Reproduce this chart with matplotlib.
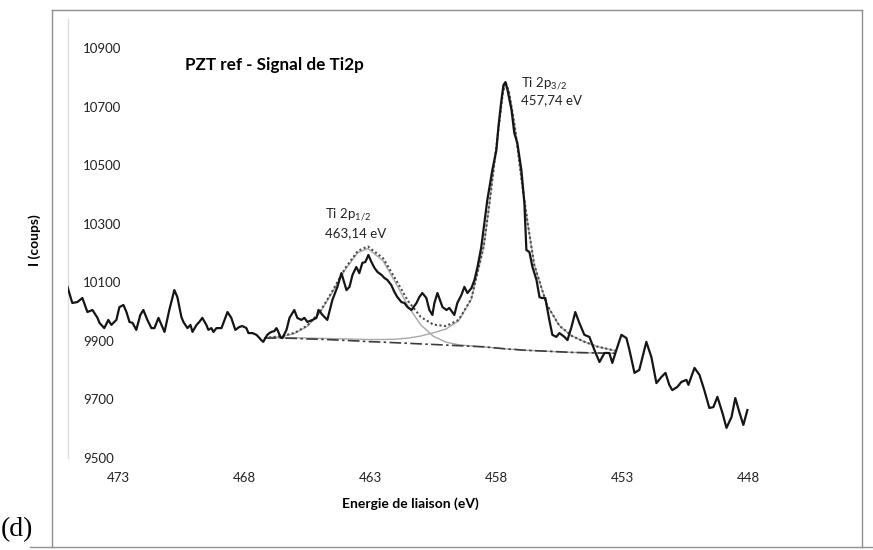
import matplotlib
matplotlib.use("Agg")
import matplotlib.pyplot as plt
from matplotlib.lines import Line2D

plt.rcParams["font.family"] = ["Lato", "DejaVu Sans"]
plt.rcParams["mathtext.fontset"] = "custom"
plt.rcParams["mathtext.rm"] = "Lato"
plt.rcParams["mathtext.it"] = "Lato:italic"

# measured Ti2p spectrum (binding energy in eV, counts)
energy = [
    475.02, 474.83, 474.63, 474.43, 474.23, 474.03, 473.83, 473.75, 473.56, 473.40,
    473.28, 473.08, 472.96, 472.80, 472.68, 472.56, 472.44, 472.29, 472.13, 472.01,
    471.85, 471.69, 471.57, 471.41, 471.29, 471.17, 470.98, 470.78, 470.66, 470.50,
    470.42, 470.26, 470.14, 470.06, 469.90, 469.79, 469.67, 469.51, 469.43, 469.31,
    469.23, 469.11, 468.91, 468.67, 468.52, 468.36, 468.20, 468.08, 467.92, 467.84,
    467.68, 467.52, 467.40, 467.33, 467.25, 467.17, 467.09, 467.01, 466.93, 466.81,
    466.73, 466.69, 466.57, 466.49, 466.33, 466.21, 466.02, 465.90, 465.74, 465.62,
    465.50, 465.30, 465.14, 465.06, 464.90, 464.71, 464.51, 464.31, 464.15, 463.95,
    463.83, 463.71, 463.56, 463.44, 463.32, 463.20, 463.08, 462.96, 462.84, 462.72,
    462.56, 462.44, 462.33, 462.17, 462.05, 461.93, 461.77, 461.65, 461.53, 461.37,
    461.17, 461.06, 460.94, 460.78, 460.66, 460.54, 460.46, 460.34, 460.14, 459.98,
    459.87, 459.67, 459.55, 459.39, 459.27, 459.15, 458.99, 458.87, 458.75, 458.60,
    458.48, 458.36, 458.16, 458.00, 457.92, 457.80, 457.72, 457.64, 457.56, 457.40,
    457.29, 457.17, 457.01, 456.89, 456.81, 456.69, 456.57, 456.41, 456.29, 456.21,
    456.06, 455.90, 455.78, 455.62, 455.50, 455.30, 455.18, 455.02, 454.87, 454.71,
    454.51, 454.31, 454.11, 453.91, 453.71, 453.52, 453.40, 453.24, 453.04, 452.84,
    452.72, 452.52, 452.33, 452.05, 451.85, 451.65, 451.45, 451.29, 451.14, 451.02,
    450.82, 450.66, 450.46, 450.38, 450.14, 449.94, 449.75, 449.55, 449.39, 449.23,
    449.03, 448.87, 448.67, 448.52, 448.36, 448.20, 448.04,
]
counts = [
    10085, 10030, 10033, 10047, 9999, 10006, 9979, 9962, 9944, 9972,
    9955, 9972, 10016, 10023, 9999, 9965, 9962, 9938, 9989, 10006,
    9972, 9944, 9944, 9979, 9955, 9931, 10006, 10074, 10050, 9982,
    9965, 9944, 9955, 9931, 9955, 9965, 9979, 9955, 9938, 9944,
    9931, 9944, 9944, 9999, 9979, 9938, 9948, 9951, 9944, 9927,
    9927, 9921, 9910, 9903, 9897, 9910, 9921, 9927, 9931, 9934,
    9944, 9938, 9914, 9910, 9938, 9979, 10006, 9979, 9972, 9979,
    9965, 9972, 9979, 10006, 9989, 9972, 10040, 10085, 10132, 10074,
    10085, 10126, 10153, 10132, 10167, 10170, 10194, 10170, 10150, 10136,
    10126, 10115, 10109, 10091, 10068, 10050, 10033, 10030, 10016, 10006,
    10030, 10050, 10064, 10047, 10006, 9989, 10030, 10064, 10016, 10006,
    10013, 9989, 10030, 10057, 10085, 10064, 10081, 10109, 10153, 10221,
    10303, 10382, 10485, 10553, 10632, 10724, 10775, 10785, 10758, 10690,
    10611, 10577, 10485, 10372, 10211, 10204, 10153, 10109, 10050, 10047,
    10047, 9972, 9921, 9914, 9927, 9914, 9903, 9948, 9999, 9962,
    9921, 9914, 9869, 9828, 9859, 9859, 9825, 9869, 9921, 9910,
    9869, 9791, 9801, 9897, 9845, 9756, 9777, 9791, 9750, 9732,
    9743, 9760, 9767, 9750, 9808, 9784, 9732, 9671, 9674, 9709,
    9654, 9603, 9640, 9705, 9657, 9613, 9664,
]

# decomposition: background, the two Ti 2p components and the envelope
fit_energy = [
    467.2, 466.5, 466.0, 465.5, 465.0, 464.5, 464.0, 463.5, 463.1, 462.5,
    462.0, 461.5, 461.0, 460.5, 460.0, 459.5, 459.0, 458.5, 458.25, 458.0,
    457.75, 457.64, 457.5, 457.25, 457.0, 456.75, 456.5, 456.0, 455.5, 455.0,
    454.5, 454.0, 453.3,
]
background = [
    9910, 9910, 9909, 9907, 9906, 9904, 9902, 9900, 9898, 9896,
    9894, 9892, 9890, 9888, 9886, 9884, 9882, 9880, 9878, 9876,
    9874, 9873, 9872, 9871, 9869, 9868, 9867, 9865, 9863, 9861,
    9860, 9859, 9858,
]
peak_2p12 = [
    9911, 9915, 9926, 9950, 9997, 10068, 10144, 10202, 10216, 10174,
    10099, 10018, 9955, 9916, 9896, 9887, 9883, 9880, 9878, 9876,
    9874, 9873, 9872, 9871, 9869, 9868, 9867, 9865, 9863, 9861,
    9860, 9859, 9858,
]
peak_2p32 = [
    9910, 9911, 9911, 9910, 9909, 9908, 9907, 9906, 9905, 9905,
    9906, 9910, 9917, 9928, 9941, 9969, 10042, 10224, 10387, 10566,
    10744, 10785, 10752, 10622, 10449, 10298, 10161, 10024, 9952, 9917,
    9897, 9881, 9867,
]
envelope = [
    9910, 9917, 9928, 9953, 10000, 10072, 10149, 10208, 10223, 10183,
    10111, 10036, 9982, 9956, 9951, 9972, 10043, 10224, 10387, 10566,
    10744, 10785, 10752, 10622, 10449, 10298, 10161, 10024, 9952, 9917,
    9897, 9881, 9867,
]

x_ticks = [473, 468, 463, 458, 453, 448]
y_ticks = [9500, 9700, 9900, 10100, 10300, 10500, 10700, 10900]

W, H = 873, 550
fig = plt.figure(figsize=(W / 100, H / 100), dpi=100)
ax = fig.add_axes([68 / W, 1 - 458 / H, 756 / W, 438.8 / H])

ax.plot(fit_energy, peak_2p12, color="#a8a8a8", lw=1.0, zorder=2)
ax.plot(fit_energy, peak_2p32, color="#a8a8a8", lw=1.0, zorder=2)
ax.plot(fit_energy, background, color="#3c3c3c", lw=1.2,
        linestyle=(0, (7, 2, 1.5, 2)), zorder=3)
ax.plot(fit_energy, envelope, color="#4a4a4a", lw=1.5,
        linestyle=(0, (1, 1.2)), zorder=3)
ax.plot(energy, counts, color="#151515", lw=1.6, zorder=4)

ax.set_xlim(475, 445)
ax.set_ylim(9500, 11000)
ax.set_xticks(x_ticks)
ax.set_yticks(y_ticks)
ax.set_xticklabels([str(v) for v in x_ticks])
ax.set_yticklabels([str(v) for v in y_ticks])
ax.tick_params(axis="x", length=0, pad=10, labelsize=9.5, colors="#222222")
ax.tick_params(axis="y", length=0, pad=-10.8, labelsize=9.5, colors="#222222")
for lab in ax.get_yticklabels():
    lab.set_horizontalalignment("left")

for side in ("top", "right", "bottom"):
    ax.spines[side].set_visible(False)
ax.spines["left"].set_color("#dddddd")
ax.spines["left"].set_linewidth(1.0)

ax.set_xlabel("Energie de liaison (eV)", fontsize=10, fontweight="bold",
              labelpad=4)
ax.xaxis.set_label_coords((410 - 68) / 756, -(497 - 458) / 438.8)
fig.text(35 / W, 1 - 240 / H, "I (coups)", rotation=90, fontsize=10,
         fontweight="bold", ha="center", va="center")

fig.text(185 / W, 1 - 65 / H, "PZT ref - Signal de Ti2p", fontsize=12.3,
         fontweight="bold", ha="left", va="center")

ax.text(464.79, 10331, r"Ti 2p$_{1/2}$", fontsize=9.5, ha="left",
        va="center", color="#222222")
ax.text(464.79, 10269, "463,14 eV", fontsize=9.5, ha="left", va="center",
        color="#222222")
ax.text(457.01, 10779, r"Ti 2p$_{3/2}$", fontsize=9.5, ha="left",
        va="center", color="#222222")
ax.text(457.01, 10724, "457,74 eV", fontsize=9.5, ha="left", va="center",
        color="#222222")

# panel frame and tag
frame = dict(color="#8f8f8f", lw=1.0, transform=fig.transFigure)
fig.add_artist(Line2D([52 / W, 52 / W], [1 - 10 / H, 1 - 547 / H], **frame))
fig.add_artist(Line2D([52 / W, 862 / W], [1 - 10 / H, 1 - 10 / H], **frame))
fig.add_artist(Line2D([862 / W, 862 / W], [1 - 10 / H, 1 - 547 / H], **frame))
fig.add_artist(Line2D([30 / W, 873 / W], [1 - 547 / H, 1 - 547 / H], **frame))
fig.text(1 / W, 1 - 530 / H, "(d)", fontsize=20, family="Liberation Serif",
         ha="left", va="center")

fig.savefig("out.png", dpi=100)
